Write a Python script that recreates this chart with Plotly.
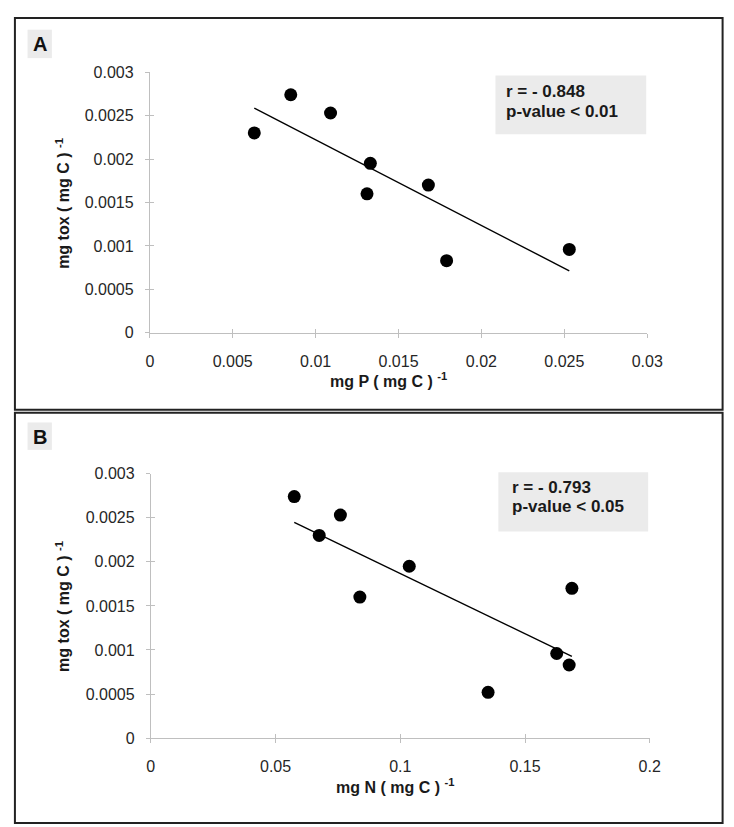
import numpy as np
import plotly.graph_objects as go

W, H = 734, 827

# ---- data ----
p_A = [0.0063, 0.0085, 0.0109, 0.0133, 0.0131, 0.0168, 0.0179, 0.0253]
tox_A = [0.00230, 0.00274, 0.00253, 0.00195, 0.00160, 0.00170, 0.00083, 0.00096]
n_B = [0.0575, 0.0675, 0.0760, 0.0838, 0.1036, 0.1352, 0.1627, 0.1677, 0.1688]
tox_B = [0.00274, 0.00230, 0.00253, 0.00160, 0.00195, 0.00052, 0.00096, 0.00083, 0.00170]

ticks_xA = [0, 0.005, 0.01, 0.015, 0.02, 0.025, 0.03]
ticklabels_xA = ["0", "0.005", "0.01", "0.015", "0.02", "0.025", "0.03"]
ticks_xB = [0, 0.05, 0.1, 0.15, 0.2]
ticklabels_xB = ["0", "0.05", "0.1", "0.15", "0.2"]
ticks_y = [0, 0.0005, 0.001, 0.0015, 0.002, 0.0025, 0.003]
ticklabels_y = ["0", "0.0005", "0.001", "0.0015", "0.002", "0.0025", "0.003"]

stats_A = ["r = - 0.848", "p-value < 0.01"]
stats_B = ["r = - 0.793", "p-value < 0.05"]


def px(x):
    return x / W


def py(y):
    return 1 - y / H


FONT = "Liberation Sans, Arial, sans-serif"
AXC = "#bfbfbf"
TXT = "#262626"

fig = go.Figure()


def fit_line(x, y):
    k, b = np.polyfit(x, y, 1)
    xs = np.array([min(x), max(x)])
    return xs, k * xs + b


# panel A
fig.add_trace(go.Scatter(x=p_A, y=tox_A, mode="markers", xaxis="x", yaxis="y",
                         marker=dict(color="black", size=13), showlegend=False, hoverinfo="skip"))
lx, ly = fit_line(p_A, tox_A)
fig.add_trace(go.Scatter(x=lx, y=ly, mode="lines", xaxis="x", yaxis="y",
                         line=dict(color="black", width=1.4), showlegend=False, hoverinfo="skip"))
# panel B
fig.add_trace(go.Scatter(x=n_B, y=tox_B, mode="markers", xaxis="x2", yaxis="y2",
                         marker=dict(color="black", size=13), showlegend=False, hoverinfo="skip"))
lx, ly = fit_line(n_B, tox_B)
fig.add_trace(go.Scatter(x=lx, y=ly, mode="lines", xaxis="x2", yaxis="y2",
                         line=dict(color="black", width=1.4), showlegend=False, hoverinfo="skip"))
# empty traces for inside tick overlay axes
fig.add_trace(go.Scatter(x=[], y=[], xaxis="x3", yaxis="y3", showlegend=False, hoverinfo="skip"))
fig.add_trace(go.Scatter(x=[], y=[], xaxis="x4", yaxis="y4", showlegend=False, hoverinfo="skip"))

domA_x = [px(141.7), px(653)]
domA_y = [py(323.5), py(57.3)]
domB_x = [px(142.7), px(655.6)]
domB_y = [py(737.3), py(467.3)]

tickfont = dict(family=FONT, size=16, color=TXT)


def xax(dom, rng, tv, tt, anchor):
    return dict(domain=dom, range=rng, tickvals=tv, ticktext=tt, anchor=anchor,
                showgrid=False, zeroline=False, showline=True, linecolor=AXC, linewidth=1,
                ticks="outside", ticklen=4, tickcolor=AXC, tickwidth=1,
                tickfont=tickfont, ticklabelstandoff=10, fixedrange=True)


def yax(dom, rng, tv, tt, anchor):
    return dict(domain=dom, range=rng, tickvals=tv, ticktext=tt, anchor=anchor,
                showgrid=False, zeroline=False, showline=True, linecolor=AXC, linewidth=1,
                ticks="outside", ticklen=4, tickcolor=AXC, tickwidth=1,
                tickfont=tickfont, ticklabelstandoff=8, fixedrange=True)


def inside_x(dom, rng, tv, anchor, overlay):
    return dict(domain=dom, range=rng, tickvals=tv, anchor=anchor, overlaying=overlay,
                showgrid=False, zeroline=False, showline=False, showticklabels=False,
                ticks="inside", ticklen=4, tickcolor=AXC, tickwidth=1, fixedrange=True)


def inside_y(dom, rng, tv, anchor, overlay):
    return dict(domain=dom, range=rng, tickvals=tv, anchor=anchor, overlaying=overlay,
                showgrid=False, zeroline=False, showline=False, showticklabels=False,
                ticks="inside", ticklen=4, tickcolor=AXC, tickwidth=1, fixedrange=True)


fig.update_layout(
    width=W, height=H,
    margin=dict(l=0, r=0, t=0, b=0),
    paper_bgcolor="white", plot_bgcolor="rgba(0,0,0,0)",
    font=dict(family=FONT, color=TXT),
    xaxis=xax(domA_x, [0, 0.03], ticks_xA, ticklabels_xA, "y"),
    yaxis=yax(domA_y, [0, 0.003], ticks_y, ticklabels_y, "x"),
    xaxis2=xax(domB_x, [0, 0.2], ticks_xB, ticklabels_xB, "y2"),
    yaxis2=yax(domB_y, [0, 0.003], ticks_y, ticklabels_y, "x2"),
    xaxis3=inside_x(domA_x, [0, 0.03], ticks_xA, "y", "x"),
    yaxis3=inside_y(domA_y, [0, 0.003], ticks_y, "x", "y"),
    xaxis4=inside_x(domB_x, [0, 0.2], ticks_xB, "y2", "x2"),
    yaxis4=inside_y(domB_y, [0, 0.003], ticks_y, "x2", "y2"),
)

shapes = []
# panel borders
for (y0, y1) in [(2, 402), (405, 824)]:
    shapes.append(dict(type="rect", xref="paper", yref="paper",
                       x0=px(3), x1=px(730.5), y0=py(y1), y1=py(y0),
                       line=dict(color="#222222", width=2), fillcolor="rgba(0,0,0,0)", layer="above"))
# letter boxes
for (y0, y1) in [(14, 43), (415, 443)]:
    shapes.append(dict(type="rect", xref="paper", yref="paper",
                       x0=px(16), x1=px(41), y0=py(y1), y1=py(y0),
                       line=dict(width=0), fillcolor="#ebebeb", layer="below"))
# stats boxes
for (x0, x1, y0, y1) in [(497, 652, 60.7, 120.7), (500, 654, 465.7, 526.3)]:
    shapes.append(dict(type="rect", xref="paper", yref="paper",
                       x0=px(x0), x1=px(x1), y0=py(y1), y1=py(y0),
                       line=dict(width=0), fillcolor="#ebebeb", layer="below"))
fig.update_layout(shapes=shapes)

ann = []
for txt, cy in [("A", 29), ("B", 429.5)]:
    ann.append(dict(text="<b>" + txt + "</b>", x=px(28.5), y=py(cy), xref="paper", yref="paper",
                    xanchor="center", yanchor="middle", showarrow=False,
                    font=dict(family=FONT, size=20, color="#111111")))
for lines, cx, cys in [(stats_A, 505.5, (77.2, 97.0)), (stats_B, 511.5, (481.2, 500.8))]:
    for txt, cy in zip(lines, cys):
        ann.append(dict(text="<b>" + txt + "</b>", x=px(cx), y=py(cy), xref="paper", yref="paper",
                        xanchor="left", yanchor="middle", align="left", showarrow=False,
                        font=dict(family=FONT, size=17, color="#1a1a1a")))
for txt, cx, cy in [("mg P ( mg C ) <sup>-1</sup>", 387, 372), ("mg N ( mg C ) <sup>-1</sup>", 394, 786)]:
    ann.append(dict(text="<b>" + txt + "</b>", x=px(cx), y=py(cy), xref="paper", yref="paper",
                    xanchor="center", yanchor="middle", showarrow=False,
                    font=dict(family=FONT, size=16, color="#1a1a1a")))
for cy in [191.5, 603]:
    ann.append(dict(text="<b>mg tox ( mg C ) <sup>-1</sup></b>", x=px(51.7), y=py(cy),
                    xref="paper", yref="paper", textangle=-90,
                    xanchor="center", yanchor="middle", showarrow=False,
                    font=dict(family=FONT, size=16, color="#1a1a1a")))
fig.update_layout(annotations=ann)

fig.write_html("out.html")
